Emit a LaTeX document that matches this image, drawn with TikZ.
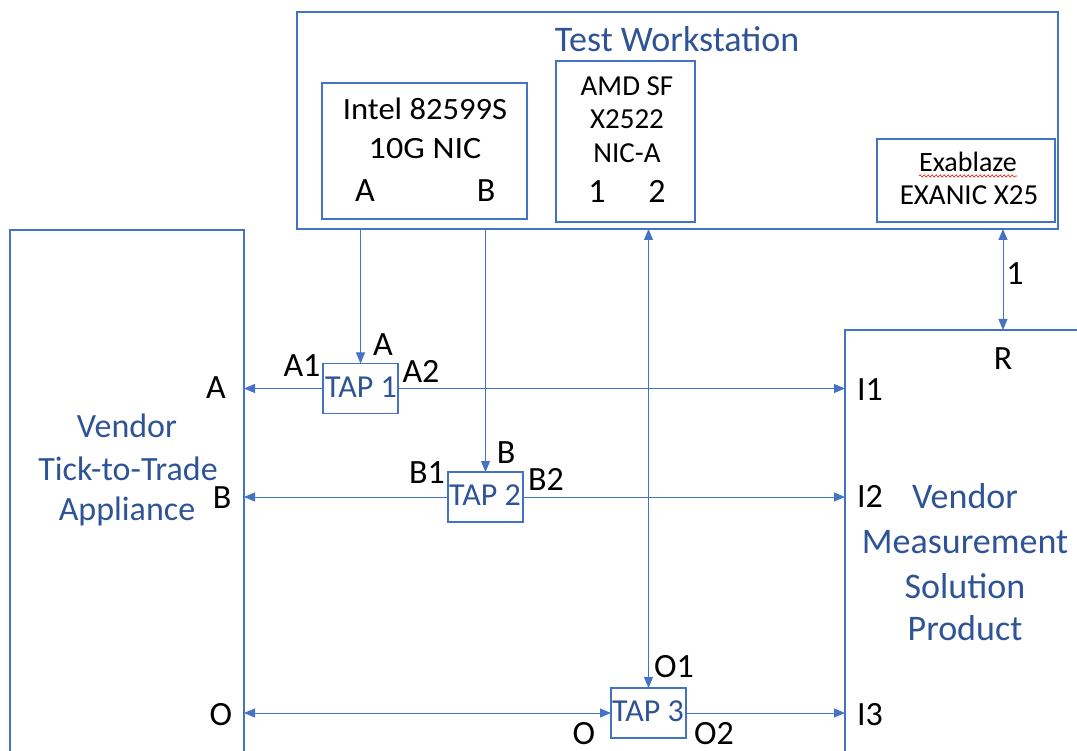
\documentclass[tikz,border=0pt]{standalone}
\usepackage{fontspec}
\setmainfont{Carlito}
\usetikzlibrary{arrows.meta,decorations.pathmorphing}
\definecolor{lineblue}{HTML}{4472C4}
\definecolor{textblue}{HTML}{2F5496}
\begin{document}
\begin{tikzpicture}[x=1pt,y=-1pt,
  box/.style={draw=lineblue, line width=1.3pt, inner sep=0pt, outer sep=0pt},
  conn/.style={draw=lineblue, line width=0.9pt},
  >={Triangle[length=11pt,width=9pt]},
  lbl/.style={font=\fontsize{34}{40}\selectfont, inner sep=0pt, anchor=base},
  nic/.style={font=\fontsize{29}{34}\selectfont, inner sep=0pt, anchor=base},
  big/.style={font=\fontsize{34}{40}\selectfont, text=textblue, inner sep=0pt, anchor=base},
  bigr/.style={font=\fontsize{36}{42}\selectfont, text=textblue, inner sep=0pt, anchor=base},
  tapbox/.style={box, minimum width=75pt, minimum height=50pt},
  taptext/.style={font=\fontsize{32}{36}\selectfont, text=textblue, inner sep=0pt, anchor=base}]
\useasboundingbox (0,0) rectangle (1077,751);
\clip (0,0) rectangle (1077,751);
% boxes
\node[box, minimum width=761pt, minimum height=217pt] (ws) at (677.5,120.5) {};
\node[box, minimum width=205pt, minimum height=136pt] (intel) at (424.5,151) {};
\node[box, minimum width=139pt, minimum height=161pt] (amd) at (625.5,141.5) {};
\node[box, minimum width=178pt, minimum height=83pt] (exa) at (966,180.5) {};
\node[box, minimum width=234pt, minimum height=540pt] (lb) at (127,500) {};
\node[box, minimum width=255pt, minimum height=440pt] (rb) at (972.5,550) {};
\node[tapbox] (tap1) at (360.5,388.5) {};
\node[tapbox] (tap2) at (485.5,497) {};
\node[tapbox] (tap3) at (648.5,713) {};
% texts in workstation
\node[font=\fontsize{36}{40}\selectfont, text=textblue, inner sep=0pt, anchor=base] (title) at (677,52) {Test Workstation};
\node[nic, font=\fontsize{31}{36}\selectfont] (in1) at (425,120) {\scalebox{1.05}[1]{Intel 82599S}};
\node[nic, font=\fontsize{31}{36}\selectfont] (in2) at (425,159) {\scalebox{1.10}[1]{10G NIC}};
\node[lbl] (inA) at (365,202) {A};
\node[lbl] (inB) at (486,202) {B};
\node[nic] (am1) at (627,96) {AMD SF};
\node[nic] (am2) at (627,129) {X2522};
\node[nic] (am3) at (627,163) {NIC-A};
\node[lbl] (am4) at (597,203) {1};
\node[lbl] (am5) at (657,203) {2};
\node[nic, font=\fontsize{28}{33}\selectfont] (ex1) at (968,172) {Exablaze};
\node[nic, font=\fontsize{29}{33}\selectfont] (ex2) at (969,205) {EXANIC X25};
\draw[red, line width=0.6pt, decorate, decoration={snake, amplitude=1.1pt, segment length=4pt}] (ex1.base west) ++(0,4) coordinate (sq1) -- (sq1 -| ex1.base east);
% big texts
\node[big] (l1) at (127,438) {Vendor};
\node[big] (l2) at (128,480) {Tick-to-Trade};
\node[big] (l3) at (127,520) {Appliance};
\node[bigr] (r1) at (965,508) {Vendor};
\node[bigr] (r2) at (965,553) {Measurement};
\node[bigr] (r3) at (965,598) {Solution};
\node[bigr] (r4) at (965,640) {Product};
% tap texts
\node[taptext] (t1) at (361,398) {TAP 1};
\node[taptext] (t2) at (485,505) {TAP 2};
\node[taptext] (t3) at (648,721) {TAP 3};
% port labels
\node[lbl] (pA) at (216,399) {A};
\node[lbl] (pB) at (222,508) {B};
\node[lbl] (pO) at (221,725) {O};
\node[lbl] (pI1) at (870,400) {I1};
\node[lbl] (pI2) at (870,507) {I2};
\node[lbl] (pI3) at (870,725) {I3};
\node[lbl] (pR) at (1003,370) {R};
\node[lbl] (p1) at (1015,285) {1};
\node[lbl] (a1) at (302,377) {A1};
\node[lbl] (a0) at (383,356) {A};
\node[lbl] (a2) at (421,383) {A2};
\node[lbl] (b1) at (427,483) {B1};
\node[lbl] (b0) at (506,463) {B};
\node[lbl] (b2) at (546,490) {B2};
\node[lbl] (o1) at (674,677) {O1};
\node[lbl] (o0) at (584,744) {O};
\node[lbl] (o2) at (714,744) {O2};
% connectors
\coordinate (e1) at (1003,229);
\draw[conn,->] (tap1.north |- ws.south) -- (tap1.north);
\draw[conn,->] (tap2.north |- ws.south) -- (tap2.north);
\draw[conn,<->] (tap3.north |- ws.south) -- (tap3.north);
\draw[conn,<->] (e1) -- (e1 |- rb.north);
\draw[conn,->] (tap1.west) -- (tap1.west -| lb.east);
\draw[conn,->] (tap1.east) -- (tap1.east -| rb.west);
\draw[conn,->] (tap2.west) -- (tap2.west -| lb.east);
\draw[conn,->] (tap2.east) -- (tap2.east -| rb.west);
\draw[conn,<->] (tap3.west -| lb.east) -- (tap3.west);
\draw[conn,->] (tap3.east) -- (tap3.east -| rb.west);
\end{tikzpicture}
\end{document}
